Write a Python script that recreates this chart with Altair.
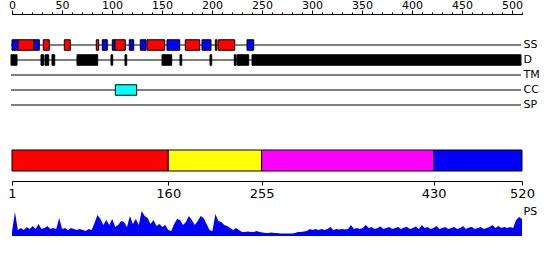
import altair as alt
import pandas as pd

FONT = "DejaVu Sans"

# ---- top ruler ----
RULER_MAJOR = [0, 50, 100, 150, 200, 250, 300, 350, 400, 450, 500]
RULER_MINOR = [0, 10, 20, 30, 40, 50, 60, 70, 80, 90, 100, 110, 120, 130, 140, 150,
               160, 170, 180, 190, 200, 210, 220, 230, 240, 250, 260, 270, 280, 290,
               300, 310, 320, 330, 340, 350, 360, 370, 380, 390, 400, 410, 420, 430,
               440, 450, 460, 470, 480, 490, 500, 510]
RULER_DOMAIN = [0, 510]

# ---- feature rows ----
ROW_NAMES = ["SS", "D", "TM", "CC", "SP"]
ROW_LINE_START = -1
ROW_LINE_END = 509

SS_START = [0, 6, 22, 31.3, 52.3, 84.3, 90.3, 100.3, 103, 117.3, 128.3, 135, 155, 173.3, 190, 203.3, 206.3, 235]
SS_END = [6, 22, 27.3, 37.3, 58.3, 86.7, 95.3, 103, 113.3, 121.7, 134, 152.7, 167.7, 187.7, 199, 205, 222.7, 241.7]
SS_KIND = ["strand", "helix", "strand", "helix", "helix", "helix", "strand", "strand", "helix",
           "strand", "strand", "helix", "strand", "helix", "strand", "helix", "helix", "strand"]

D_START = [-1, 29, 33, 40, 65, 99, 113, 150, 168, 198, 222.3, 225, 240]
D_END = [5, 31.7, 36.7, 42.7, 85.7, 100.7, 114.7, 159.7, 169.7, 199.7, 224, 236.7, 509]

CC_START = [103.3]
CC_END = [124.7]

KINDS = ["helix", "strand", "disorder", "coil"]
KIND_COLORS = ["#ff0000", "#0000ff", "#000000", "#00ffff"]

# ---- domain bar ----
DOM_START = [1, 160, 255, 430]
DOM_END = [160, 255, 430, 520]
DOM_COLORS = ["#ff0000", "#ffff00", "#ff00ff", "#0000ff"]
DOM_TICKS = [1, 160, 255, 430, 520]
SEQ_DOMAIN = [1, 520]

# ---- PS profile ----
PS_POS = list(range(1, 521, 3))
PS_VAL = [
    4.5, 24, 6, 8, 6, 9, 7, 10, 7, 12,
    7, 8, 10, 7, 8, 7, 18, 7, 8, 6,
    8, 7, 6, 7, 6, 5, 7, 6, 13, 21,
    17, 11, 16, 11, 17, 9, 11, 15, 14, 9,
    20, 12, 17, 11, 25, 20, 18, 12, 16, 10,
    12, 9, 11, 6, 5, 12, 17, 16, 11, 14,
    20, 16, 11, 15, 20, 18, 12, 6, 5, 22,
    15, 14, 11, 10, 8, 6, 8, 6, 4, 4,
    4.5, 4, 4, 5, 4, 3.5, 3, 3, 3.5, 3,
    3, 2.5, 2.5, 2.5, 2.5, 2.5, 3, 4, 4, 4.5,
    5, 7, 6, 7, 6, 7, 6, 7, 9, 6,
    7, 6.5, 7, 6.5, 7, 11, 7, 8, 7, 8,
    11, 8, 9, 7, 8, 9.5, 7, 8, 9, 7,
    8, 9, 7, 8.5, 9, 7, 8, 9.5, 7, 11,
    8, 9, 7, 8, 10, 7, 8, 9, 7, 8,
    9, 7, 8, 10, 7, 8.5, 9, 7, 8, 9,
    7, 8, 9, 11, 8, 10, 8, 9, 8, 9,
    8, 16, 19, 17,
]

# ---------------- tables ----------------
rows_df = pd.DataFrame({
    "row": ROW_NAMES,
    "start": [ROW_LINE_START] * len(ROW_NAMES),
    "end": [ROW_LINE_END] * len(ROW_NAMES),
})

feat_rows = []
for s, e, k in zip(SS_START, SS_END, SS_KIND):
    feat_rows.append({"row": "SS", "start": s, "end": e, "kind": k})
for s, e in zip(D_START, D_END):
    feat_rows.append({"row": "D", "start": s, "end": e, "kind": "disorder"})
for s, e in zip(CC_START, CC_END):
    feat_rows.append({"row": "CC", "start": s, "end": e, "kind": "coil"})
feat_df = pd.DataFrame(feat_rows)

dom_df = pd.DataFrame({"start": DOM_START, "end": DOM_END, "color": DOM_COLORS})
ps_df = pd.DataFrame({"pos": PS_POS, "val": PS_VAL})

# ---------------- panel 1 ----------------
x1_scale = alt.Scale(domain=RULER_DOMAIN, nice=False, zero=False)
y1_scale = alt.Scale(domain=ROW_NAMES, paddingInner=0.3, paddingOuter=0, range=[25.75, 96.25])

ruler_major = alt.Axis(orient="top", values=RULER_MAJOR, tickSize=4, labelPadding=0,
                       labelFontSize=11, labelFlush=False, labelOverlap=False,
                       domain=True, domainColor="black", tickColor="black",
                       labelColor="black", grid=False, title=None)
ruler_minor = alt.Axis(orient="top", values=RULER_MINOR, tickSize=2, labels=False,
                       domain=False, tickColor="black", grid=False, title=None)
row_axis = alt.Axis(orient="right", ticks=False, tickSize=0, domain=False, labelPadding=1,
                    labelFontSize=11, labelColor="black", grid=False, title=None)

lines = alt.Chart(rows_df).mark_rule(color="black", strokeWidth=1).encode(
    x=alt.X("start:Q", scale=x1_scale, axis=ruler_minor),
    x2="end:Q",
    y=alt.Y("row:N", scale=y1_scale, sort=ROW_NAMES, axis=row_axis),
)
feats = alt.Chart(feat_df).mark_rect(stroke="black", strokeWidth=1).encode(
    x=alt.X("start:Q", scale=x1_scale, axis=ruler_major),
    x2="end:Q",
    y=alt.Y("row:N", scale=y1_scale, sort=ROW_NAMES, axis=row_axis),
    color=alt.Color("kind:N", scale=alt.Scale(domain=KINDS, range=KIND_COLORS), legend=None),
)
p1 = alt.layer(lines, feats).resolve_axis(x="independent").properties(width=510, height=122)

# ---------------- panel 2 ----------------
p2 = alt.Chart(dom_df).mark_rect(stroke="black", strokeWidth=1).encode(
    x=alt.X("start:Q", scale=alt.Scale(domain=SEQ_DOMAIN, nice=False, zero=False),
            axis=alt.Axis(orient="bottom", values=DOM_TICKS, tickSize=4, offset=10,
                          labelFontSize=13, labelFlush=False, labelOverlap=False,
                          labelPadding=2, domainColor="black", tickColor="black",
                          labelColor="black", grid=False, title=None)),
    x2="end:Q",
    color=alt.Color("color:N", scale=None),
).properties(width=510, height=21)

# ---------------- panel 3 ----------------
p3 = alt.Chart(ps_df).mark_area(color="#0000ff", interpolate="linear").encode(
    x=alt.X("pos:Q", scale=alt.Scale(domain=SEQ_DOMAIN, nice=False, zero=False), axis=None),
    y=alt.Y("val:Q", scale=alt.Scale(domain=[0, 51], nice=False),
            axis=alt.Axis(orient="right", title="PS", labels=False, ticks=False,
                          domain=False, grid=False, titleAngle=0, titleAlign="left",
                          titleBaseline="middle", titleX=1, titleY=26,
                          titleFontSize=11, titleFontWeight="normal", titleColor="black")),
).properties(width=510, height=51)

chart = alt.vconcat(p1, p2, p3, spacing=14, bounds="flush").resolve_scale(
    x="independent", y="independent"
).properties(
    padding={"left": 7, "top": -1, "right": 5, "bottom": 0},
    background="white",
).configure_view(stroke=None).configure_axis(labelFont=FONT, titleFont=FONT)

chart.save("out.html", embed_options={"renderer": "svg", "actions": False})
